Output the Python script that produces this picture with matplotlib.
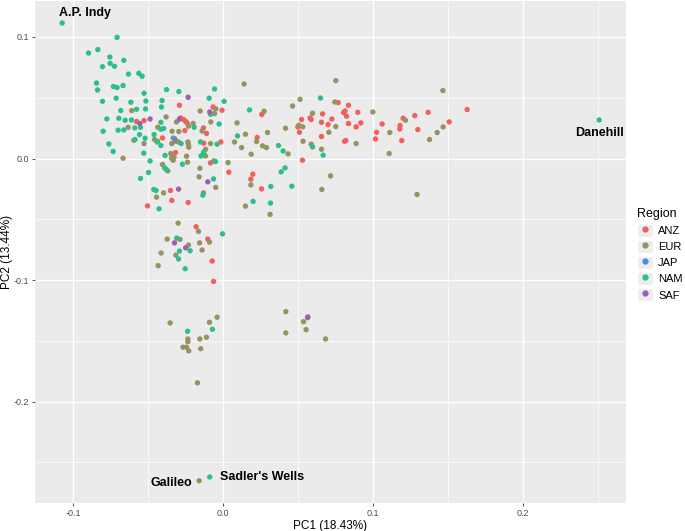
import matplotlib
matplotlib.use("Agg")
import matplotlib.pyplot as plt
from matplotlib.lines import Line2D
from matplotlib.patches import Patch
from matplotlib.legend_handler import HandlerTuple
from matplotlib.ticker import MultipleLocator

plt.rcParams['font.family'] = ['Liberation Sans', 'DejaVu Sans']

# === data (PC1, PC2) per region ===
anz_x = [-0.0291, -0.0067, -0.0007, 0.0258, -0.0577, -0.0527, -0.0284, -0.0264, -0.0251, -0.0240,
         -0.0131, -0.0111, -0.0255, -0.0404, -0.0129, -0.0015, 0.0227, 0.0767, 0.0523, 0.0498,
         0.0509, 0.0580, 0.0587, 0.0663, 0.0656, 0.0700, 0.0725, 0.0656, -0.0317, -0.0084,
         0.0038, 0.0198, 0.0185, 0.0256, 0.0529, -0.0351, -0.0342, -0.0233, -0.0504, -0.0180,
         -0.0102, -0.0073, -0.0064, 0.0836, 0.0803, 0.0813, 0.0823, 0.0898, 0.0836, 0.0918,
         0.0887, 0.1060, 0.1023, 0.1016, 0.0809, 0.0818, 0.1200, 0.1278, 0.1367, 0.1180,
         0.1178, 0.1298, 0.1191, 0.1507, 0.1627, -0.0317]
anz_y = [0.0438, 0.0424, 0.0397, 0.0362, 0.0304, 0.0312, 0.0334, 0.0321, 0.0307, 0.0293,
         0.0252, 0.0206, 0.0230, 0.0169, 0.0126, 0.0136, 0.0173, 0.0460, 0.0321, 0.0260,
         0.0216, 0.0334, 0.0321, 0.0367, 0.0298, 0.0279, 0.0325, 0.0181, 0.0049, -0.0036,
         -0.0113, -0.0129, -0.0170, -0.0250, -0.0014, -0.0263, -0.0345, -0.0362, -0.0390, -0.0562,
         -0.0663, -0.0844, -0.1011, 0.0438, 0.0378, 0.0391, 0.0348, 0.0380, 0.0288, 0.0293,
         0.0260, 0.0284, 0.0216, 0.0161, 0.0142, 0.0148, 0.0331, 0.0353, 0.0380, 0.0271,
         0.0243, 0.0238, 0.0148, 0.0301, 0.0403, 0.0142]

eur_x = [0.0140, 0.0751, -0.0049, -0.0153, 0.0273, -0.0609, -0.0380, -0.0200, -0.0082, 0.0093,
         -0.0633, -0.0435, -0.0340, -0.0295, -0.0231, -0.0140, -0.0595, -0.0527, -0.0457, -0.0342,
         -0.0333, -0.0297, -0.0235, -0.0231, -0.0229, -0.0084, 0.0149, 0.0123, 0.0223, 0.0296,
         0.0263, 0.0289, 0.0187, 0.0076, 0.0463, 0.0513, 0.0745, 0.0531, 0.0505, 0.0596,
         0.0751, 0.0705, 0.0533, 0.0416, 0.0433, 0.0587, 0.0656, -0.0667, -0.0349, -0.0344,
         -0.0327, -0.0333, -0.0244, -0.0237, -0.0117, -0.0117, -0.0062, 0.0033, -0.0155, -0.0160,
         -0.0404, -0.0369, -0.0049, 0.0185, 0.0716, 0.0658, -0.0397, -0.0444, -0.0131, 0.0149,
         0.0313, -0.0300, -0.0164, -0.0373, -0.0287, -0.0157, -0.0091, -0.0231, -0.0140, -0.0413,
         -0.0315, -0.0433, -0.0353, -0.0235, -0.0235, -0.0267, -0.0244, -0.0229, -0.0155, -0.0149,
         -0.0111, -0.0091, -0.0040, -0.0171, 0.0418, 0.0418, 0.0536, 0.0563, 0.0553, 0.0683,
         -0.0160, 0.1465, 0.0998, 0.1111, 0.0887, 0.1107, 0.1216, 0.1376, 0.1427, 0.1467,
         0.1293, -0.0311, -0.0437, -0.0057]
eur_y = [0.0613, 0.0641, 0.0408, 0.0391, 0.0389, 0.0394, 0.0342, 0.0288, 0.0301, 0.0293,
         0.0257, 0.0257, 0.0224, 0.0222, 0.0266, 0.0227, 0.0150, 0.0123, 0.0156, 0.0123,
         0.0169, 0.0136, 0.0136, 0.0115, 0.0093, 0.0123, 0.0200, 0.0090, 0.0140, 0.0214,
         0.0104, 0.0090, 0.0035, 0.0136, 0.0432, 0.0487, 0.0465, 0.0260, 0.0274, 0.0372,
         0.0263, 0.0216, 0.0142, 0.0249, 0.0038, 0.0118, 0.0076, 0.0002, 0.0041, 0.0002,
         0.0011, -0.0014, 0.0019, -0.0030, 0.0021, 0.0076, -0.0020, -0.0033, -0.0080, -0.0151,
         -0.0049, -0.0102, -0.0238, -0.0217, -0.0143, -0.0255, -0.0283, -0.0318, -0.0283, -0.0392,
         -0.0460, -0.0532, -0.0600, -0.0663, -0.0666, -0.0694, -0.0688, -0.0712, -0.0753, -0.0778,
         -0.0795, -0.0882, -0.1353, -0.1485, -0.1507, -0.1553, -0.1553, -0.1583, -0.1485, -0.1565,
         -0.1471, -0.1348, -0.1306, -0.1846, -0.1260, -0.1435, -0.1343, -0.1310, -0.1408, -0.1485,
         -0.2652, 0.0559, 0.0383, 0.0214, 0.0123, 0.0041, 0.0315, 0.0156, 0.0214, 0.0260,
         -0.0296, 0.0301, 0.0142, 0.0370]

jap_x = [-0.0322]
jap_y = [0.0161]

nam_x = [-0.1073, -0.0707, -0.0897, -0.0835, -0.0755, -0.0662, -0.0753, -0.0724, -0.0804, -0.0631,
         -0.0562, -0.0540, -0.0844, -0.0837, -0.0731, -0.0707, -0.0667, -0.0804, -0.0713, -0.0527,
         -0.0377, -0.0295, -0.0057, -0.0093, 0.0007, -0.0515, -0.0407, -0.0615, -0.0411, 0.0176,
         -0.0682, -0.0577, -0.0517, -0.0775, -0.0695, -0.0653, -0.0611, -0.0415, -0.0084, -0.0027,
         -0.0589, -0.0551, -0.0800, -0.0700, -0.0662, -0.0415, -0.0397, -0.0193, -0.0460, -0.0557,
         -0.0587, -0.0520, -0.0440, -0.0415, -0.0280, -0.0151, -0.0040, 0.0096, 0.0649, 0.0369,
         0.0400, 0.0596, 0.0667, -0.0733, -0.0762, -0.0529, -0.0387, -0.0271, -0.0147, -0.0135,
         -0.0129, -0.0051, -0.0487, -0.0497, -0.0389, -0.0380, -0.0551, -0.0064, 0.0318, 0.0387,
         0.0413, 0.0458, -0.0462, -0.0447, -0.0427, -0.0135, 0.0200, 0.0316, -0.0004, -0.0309,
         -0.0291, -0.0220, -0.0297, -0.0253, -0.0237, -0.0071, -0.0089, 0.2507]
nam_y = [0.1115, 0.0997, 0.0868, 0.0896, 0.0835, 0.0808, 0.0783, 0.0759, 0.0756, 0.0695,
         0.0701, 0.0677, 0.0621, 0.0564, 0.0592, 0.0584, 0.0600, 0.0471, 0.0496, 0.0537,
         0.0567, 0.0551, 0.0572, 0.0496, 0.0471, 0.0473, 0.0477, 0.0463, 0.0424, 0.0400,
         0.0395, 0.0405, 0.0408, 0.0326, 0.0331, 0.0315, 0.0317, 0.0298, 0.0364, 0.0284,
         0.0252, 0.0257, 0.0224, 0.0233, 0.0235, 0.0241, 0.0247, 0.0257, 0.0197, 0.0197,
         0.0156, 0.0167, 0.0136, 0.0107, 0.0123, 0.0136, 0.0118, 0.0186, 0.0498, 0.0107,
         0.0062, 0.0095, 0.0027, 0.0058, 0.0120, 0.0044, 0.0025, -0.0047, 0.0021, 0.0033,
         0.0054, -0.0025, -0.0020, -0.0115, -0.0077, -0.0090, -0.0164, -0.0168, -0.0230, -0.0110,
         -0.0077, -0.0228, -0.0255, -0.0263, -0.0414, -0.0302, -0.0353, -0.0367, -0.0620, -0.0655,
         -0.0762, -0.0759, -0.0827, -0.0907, -0.1422, -0.1405, -0.2621, 0.0317]

saf_x = [-0.0233, -0.0089, -0.0555, -0.0487, -0.0292, -0.0102, -0.0297, -0.0324, -0.0249, 0.0565]
saf_y = [0.0504, 0.0383, 0.0288, 0.0325, 0.0323, -0.0192, -0.0252, -0.0694, -0.0735, -0.1304]

regions = ["ANZ", "EUR", "JAP", "NAM", "SAF"]
colors = ["#F25F5C", "#969360", "#4A8FDB", "#2DBF8B", "#9C60B3"]
series = [(anz_x, anz_y), (eur_x, eur_y), (jap_x, jap_y), (nam_x, nam_y), (saf_x, saf_y)]

# labelled sires: name, pc1, pc2, text offset (px), alignment
labels = [("A.P. Indy", -0.1073, 0.1115, (23, 10), "center"),
          ("Danehill", 0.2507, 0.0317, (0, -13), "center"),
          ("Galileo", -0.0160, -0.2652, (-7, -2), "right"),
          ("Sadler's Wells", -0.0089, -0.2621, (10, 0), "left")]

# === figure ===
fig = plt.figure(figsize=(6.85, 5.31), dpi=100)
ax = fig.add_axes([0.0511, 0.0527, 0.8628, 0.9463])
ax.set_facecolor("#EBEBEB")

for (xs, ys), c, r in zip(series, colors, regions):
    ax.scatter(xs, ys, s=15, color=c, edgecolors="none", label=r, zorder=3)

for name, px, py, off, ha in labels:
    ax.annotate(name, (px, py), xytext=off, textcoords="offset pixels",
                ha=ha, va="center", fontsize=9, fontweight="bold", zorder=4)

ax.set_xlim(-0.1254, 0.2686)
ax.set_ylim(-0.2835, 0.1300)
ax.xaxis.set_minor_locator(MultipleLocator(0.05))
ax.yaxis.set_minor_locator(MultipleLocator(0.05))
ax.set_xticks([-0.1, 0.0, 0.1, 0.2])
ax.set_xticklabels(["-0.1", "0.0", "0.1", "0.2"])
ax.set_yticks([-0.2, -0.1, 0.0, 0.1])
ax.set_yticklabels(["-0.2", "-0.1", "0.0", "0.1"])
ax.grid(which="major", color="white", linewidth=1.0, zorder=0)
ax.grid(which="minor", color="white", linewidth=0.5, zorder=0)
ax.set_axisbelow(True)
for sp in ax.spines.values():
    sp.set_visible(False)
ax.tick_params(which="major", length=2.5, width=0.6, color="#333333",
               labelsize=6.5, labelcolor="#4D4D4D", pad=2)
ax.tick_params(which="minor", length=0)

ax.set_xlabel("PC1 (18.43%)", fontsize=8.5, labelpad=1)
fig.text(0.0095, 0.526, "PC2 (13.44%)", rotation=90, ha="center", va="center", fontsize=8.5)

handles = [(Patch(facecolor="#EDEDED", edgecolor="white"),
            Line2D([], [], marker="o", ls="", color=c, markersize=3.5)) for c in colors]
leg = fig.legend(handles, regions, title="Region", loc="upper left",
                 bbox_to_anchor=(0.922, 0.618), frameon=False, fontsize=8,
                 title_fontsize=9, handler_map={tuple: HandlerTuple(ndivide=1, pad=0)},
                 handlelength=1.4, handleheight=1.4, handletextpad=0.5,
                 labelspacing=0.3, borderpad=0)
leg._legend_box.align = "left"

fig.savefig("out.png", dpi=100)
